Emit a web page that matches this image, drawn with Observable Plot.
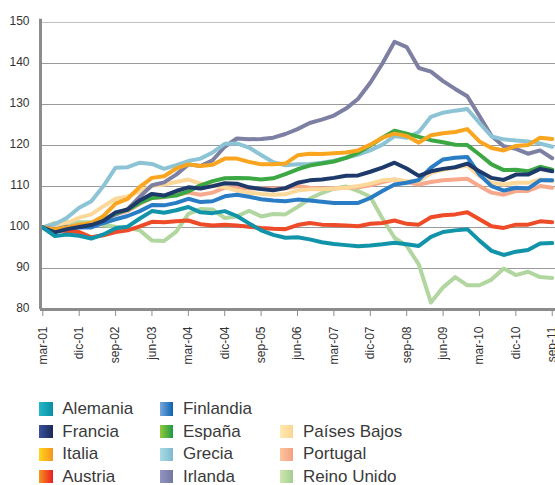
<!DOCTYPE html>
<html>
<head>
<meta charset="utf-8">
<script src="https://cdn.jsdelivr.net/npm/d3@7"></script>
<script src="https://cdn.jsdelivr.net/npm/@observablehq/plot@0.6"></script>
<style>
  html, body { margin: 0; padding: 0; background: #fff; }
  #chart { position: relative; width: 555px; }
  #legend { position: relative; width: 555px; height: 90px; font-family: "Liberation Sans", Arial, sans-serif; }
  .item { position: absolute; display: flex; align-items: center; height: 22px; font-size: 17px; color: #3a3a3a; white-space: nowrap; }
  .sw { width: 13.4px; height: 13.4px; margin-right: 9.6px; flex: none; }
</style>
</head>
<body>
<div id="chart"></div>
<div id="legend"></div>
<script>
// Quarterly index (mar-01 = 100), mar-01 ... sep-11
const tickLabels = ["mar-01","dic-01","sep-02","jun-03","mar-04","dic-04","sep-05","jun-06","mar-07","dic-07","sep-08","jun-09","mar-10","dic-10","sep-11"];
const yTicks = [80, 90, 100, 110, 120, 130, 140, 150];

const alemania = [100, 97.9, 98.3, 98, 97.3, 98.3, 99.8, 100.2, 102.2, 104, 103.6, 104.2, 105, 103.7, 103.5, 104, 102.8, 101, 99.3, 98.2, 97.5, 97.6, 97.1, 96.4, 96, 95.7, 95.4, 95.6, 95.9, 96.3, 95.9, 95.5, 97.7, 98.9, 99.3, 99.6, 96.8, 94.3, 93.3, 94.1, 94.5, 96.1, 96.2];
const francia = [100, 98.8, 99.6, 100.1, 100.6, 101.6, 103.7, 104.4, 106.6, 108.2, 107.8, 108.9, 109.8, 109.5, 110.1, 110.8, 110.7, 109.8, 109.4, 109.1, 109.6, 110.9, 111.5, 111.7, 112.1, 112.6, 112.7, 113.6, 114.6, 115.8, 114.4, 112.6, 113.7, 114.3, 114.7, 115.6, 113.7, 112.1, 111.6, 112.9, 112.9, 114.3, 113.7];
const italia = [100, 99.5, 100, 100.7, 101.1, 102.8, 105.8, 107, 109.9, 112.1, 112.5, 114.4, 115.4, 115, 115.3, 116.8, 116.8, 116, 115.4, 115.4, 115.6, 117.6, 118, 117.9, 118.1, 118.3, 118.8, 120.2, 121.9, 122.9, 122.3, 120.7, 122.5, 123, 123.3, 124, 121, 119.4, 118.8, 119.9, 120.1, 121.9, 121.6];
const austria = [100, 99.5, 99.1, 98.9, 97.6, 98.1, 98.9, 99.3, 100.3, 101.4, 101.3, 101.5, 101.7, 100.8, 100.5, 100.7, 100.5, 100.2, 99.9, 99.7, 99.6, 100.6, 101.1, 100.7, 100.6, 100.5, 100.3, 100.9, 101.1, 101.7, 100.9, 100.7, 102.5, 103, 103.2, 103.7, 102, 100.3, 99.9, 100.7, 100.7, 101.5, 101.3];
const finlandia = [100, 99, 99.7, 100, 100, 101.1, 102, 102.8, 104, 105.5, 105.4, 106, 107, 106.2, 106.4, 107.6, 108, 107.5, 106.9, 106.6, 106.4, 106.8, 106.6, 106.3, 106, 106, 106, 107.2, 108.9, 110.5, 110.9, 111.6, 114.6, 116.6, 117, 117.2, 112.9, 110.1, 109, 109.7, 109.5, 111.5, 111.5];
const espana = [100, 99.3, 100, 100.3, 100.6, 101.8, 103.5, 104.3, 106, 107.2, 107.5, 107.8, 108.8, 110.3, 111.3, 112, 112.1, 112, 111.7, 112, 113, 114.2, 115.1, 115.6, 116.1, 117, 118.2, 120, 121.9, 123.6, 122.9, 122.1, 121.3, 120.8, 120.2, 120.1, 117.8, 115.4, 114, 114.1, 113.7, 114.8, 114.1];
const grecia = [100, 100.8, 102.4, 104.8, 106.4, 110.1, 114.6, 114.7, 115.8, 115.5, 114.3, 115.2, 116.2, 116.8, 118.3, 120.4, 120.5, 119.5, 117.7, 115.9, 115.2, 115.4, 115.5, 115.8, 116.3, 117, 117.8, 118.8, 120.2, 122.3, 121.9, 123.3, 127, 128, 128.5, 128.9, 125.5, 122.2, 121.5, 121.2, 121, 120.5, 119.7];
const irlanda = [100, 99.5, 100.2, 100.3, 100.2, 101.5, 103.2, 104.5, 107.5, 110.3, 111, 112.9, 115.4, 115, 116.4, 119.7, 121.7, 121.5, 121.6, 121.9, 122.8, 124, 125.5, 126.3, 127.3, 129, 131.4, 135.3, 140, 145.3, 144, 138.9, 138, 135.7, 133.8, 132, 127.2, 122.3, 119.8, 119.2, 118, 118.8, 116.9];
const paisesBajos = [100, 100.3, 101.1, 102.4, 103.2, 105.2, 107, 107.6, 108.8, 110.1, 110.5, 111.1, 111.7, 110.7, 110.3, 109.8, 109, 108.5, 108.2, 108, 108.1, 109, 109.3, 109.3, 109.5, 109.7, 110.1, 110.7, 111.5, 111.7, 111.3, 111.3, 113.3, 114.1, 114.6, 115.1, 112.5, 110.9, 110.5, 110.9, 110.9, 111.7, 111.3];
const portugal = [100, 99.5, 99.8, 100.3, 100.8, 102, 103.2, 104, 105.8, 107.2, 107.4, 108, 108.5, 108, 108.5, 109.7, 109.8, 109.5, 109.5, 109.5, 109.5, 110.1, 109.7, 109.5, 109.5, 109.7, 109.8, 110.3, 111.1, 111.7, 111.1, 110.5, 111.1, 111.5, 111.7, 111.9, 110.1, 108.5, 108, 108.9, 108.9, 110.1, 109.7];
const reinoUnido = [100, 101.1, 101.3, 101.3, 101.3, 100.6, 100.2, 99.9, 99.3, 96.8, 96.7, 99, 103.3, 104.5, 104.4, 102.3, 102.7, 104.1, 102.7, 103.3, 103.2, 105, 107, 108.4, 109.5, 110, 108.9, 107.5, 102.2, 97.5, 95.5, 91, 81.7, 85.4, 87.9, 85.9, 85.9, 87.3, 90, 88.4, 89.2, 87.9, 87.7];

const countries = ["Alemania","Francia","Italia","Austria","Finlandia","España","Grecia","Irlanda","Países Bajos","Portugal","Reino Unido"];
const seriesValues = [alemania, francia, italia, austria, finlandia, espana, grecia, irlanda, paisesBajos, portugal, reinoUnido];

// styles
const lineColors = ["#1194a9","#1d3a6a","#f9a51f","#ee4b28","#2a7dc4","#3ba844","#8cc4d6","#7d7fa3","#fdd89b","#f7a98c","#b2d69f"];
const swatchGrad = [
  ["#22b8c9","#0a8ea3"],["#3b51a0","#1a2a55"],["#ffd51a","#f7931e"],["#f7941d","#ec1c24"],
  ["#79a7dc","#0a63b1"],["#94c83d","#1e9a48"],["#aadbe3","#7fb9d0"],["#9194c2","#73789f"],
  ["#feeab0","#fcd490"],["#fcc59d","#f4a082"],["#cfe6ac","#a4ce94"]
];
const legendPos = [[0,0],[0,1],[0,2],[0,3],[1,0],[1,1],[1,2],[1,3],[2,1],[2,2],[2,3]];

const rows = countries.map((c, k) => seriesValues[k].map((v, i) => ({country: c, i, v})));

const xTicks = tickLabels.map((_, k) => k * 3);
const marks = [
  Plot.ruleY(yTicks.filter(d => d > 80 && d < 150), {stroke: "#9a9a9a", strokeWidth: 1.2}),
  Plot.ruleY([150], {stroke: "#c2c2c2", strokeWidth: 1.2}),
  Plot.axisY({ticks: yTicks, tickSize: 0, tickPadding: 11, fill: "#333", fontSize: 12, label: null, dy: -1}),
  Plot.axisX({ticks: xTicks, tickFormat: i => tickLabels[i / 3], tickRotate: -90, tickSize: 7, tickPadding: 10, stroke: "#8c8c8c", fill: "#333", fontSize: 12, label: null})
];
for (let k = countries.length - 1; k >= 0; k--) {
  marks.push(Plot.line(rows[k], {x: "i", y: "v", stroke: lineColors[k], strokeWidth: 4, strokeLinejoin: "round", strokeLinecap: "round"}));
}
marks.push(Plot.ruleY([80], {stroke: "#8c8c8c", strokeWidth: 3}));
marks.push(Plot.ruleX([-0.19], {y1: 80, y2: 150.8, stroke: "#8c8c8c", strokeWidth: 3}));

const chart = Plot.plot({
  width: 555,
  height: 395,
  marginLeft: 40,
  marginRight: 0,
  marginTop: 22,
  marginBottom: 86,
  style: {fontFamily: "'Liberation Sans', Arial, sans-serif", fontSize: "12px", background: "#fff", color: "#333", overflow: "visible"},
  x: {type: "linear", domain: [-0.19, 42.27]},
  y: {domain: [80, 150]},
  marks
});
document.getElementById("chart").appendChild(chart);

const legend = document.getElementById("legend");
const colX = [39.3, 160, 280];
const rowCenter = [409, 431.7, 454.3, 476.7];
countries.forEach((c, k) => {
  const [col, row] = legendPos[k];
  const el = document.createElement("div");
  el.className = "item";
  el.style.left = colX[col] + "px";
  el.style.top = (rowCenter[row] - 395 - 11) + "px";
  const sw = document.createElement("span");
  sw.className = "sw";
  sw.style.background = `linear-gradient(to right, ${swatchGrad[k][0]}, ${swatchGrad[k][1]})`;
  const t = document.createElement("span");
  t.textContent = c;
  el.appendChild(sw);
  el.appendChild(t);
  legend.appendChild(el);
});
</script>
</body>
</html>
